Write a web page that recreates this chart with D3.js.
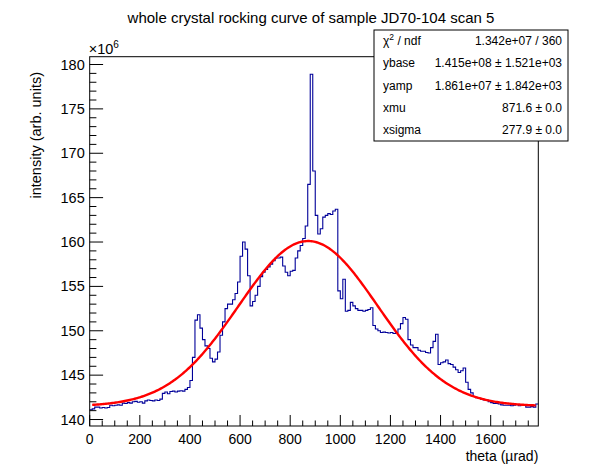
<!DOCTYPE html>
<html>
<head>
<meta charset="utf-8">
<script src="https://cdn.jsdelivr.net/npm/d3@7"></script>
<style>
  body { margin: 0; background: #fff; }
  text { font-family: "Liberation Sans", Arial, sans-serif; }
</style>
</head>
<body>
<div class="canvas"></div>
<script>
// histogram: 10 urad bins starting at 0, values in units of 1e6
const binStart = 0;
const binWidth = 10;
const counts = [
  141.1, 141.2, 141.4, 141.4, 141.3, 141.35, 141.3, 141.35, 141.6, 141.55,
  141.6, 141.65, 141.6, 141.85, 141.8, 141.9, 141.85, 142.0, 142.05, 141.95,
  142.0, 141.85, 142.1, 142.2, 142.15, 142.1, 142.2, 142.15, 142.3, 142.95,
  143.1, 142.9, 143.15, 143.2, 143.1, 143.2, 143.25, 143.2, 143.4, 143.6,
  144.4, 147.0, 151.2, 151.8, 150.3, 149.0, 148.3, 148.0, 146.9, 146.5,
  146.8, 147.6, 149.5, 151.0, 152.5, 153.0, 153.0, 153.5, 154.2, 155.5,
  158.4, 160.0, 159.2, 156.2, 152.8, 153.3, 154.0, 155.0, 156.1, 156.6,
  156.9, 157.2, 157.5, 157.9, 158.2, 158.2, 158.3, 157.3, 156.6, 156.2,
  156.7, 156.8, 158.2, 159.0, 159.6, 160.4, 161.8, 166.5, 178.9, 168.0,
  163.0, 160.9, 161.5, 162.8, 163.0, 163.2, 163.1, 163.5, 163.7, 154.5,
  153.6, 155.8, 152.2, 152.3, 153.2, 152.8, 152.5, 152.3, 152.3, 152.2,
  152.3, 152.4, 152.6, 150.6, 150.2, 150.0, 149.8, 149.85, 149.8, 149.75,
  149.8, 149.7, 149.8, 150.2, 150.8, 151.5, 151.3, 149.0, 148.4, 148.1,
  148.1, 147.8, 147.7, 147.7, 147.55, 147.5, 148.1, 148.8, 149.6, 146.2,
  146.4, 146.5, 146.7, 146.3, 146.2, 145.9, 145.6, 145.3, 145.5, 145.8,
  144.2, 143.4, 143.0, 142.6, 142.45, 142.4, 142.3, 142.2, 142.2, 142.0,
  141.9, 141.8, 141.8, 141.75, 141.65, 141.6, 141.6, 141.6, 141.55, 141.6,
  141.7, 141.55, 141.65, 141.6, 141.4, 141.4, 141.45, 141.4, 141.75
];

// gaussian fit: ybase, yamp (1e6), xmu, xsigma; fit range
const fitParams = [141.5, 18.61, 871.6, 277.9];
const fitRange = [10, 1780];

const statNames = ['χ2 / ndf', 'ybase', 'yamp', 'xmu', 'xsigma'];
const statValues = ['1.342e+07 / 360', '1.415e+08 ± 1.521e+03', '1.861e+07 ± 1.842e+03', '871.6 ± 0.0', '277.9 ± 0.0'];

const xDomain = [0, 1790];
const yDomain = [139.27, 180.88];

const width = 598, height = 474;
const margin = { top: 56.7, right: 59.7, bottom: 48, left: 89.7 };
const graphWidth = width - margin.left - margin.right;
const graphHeight = height - margin.top - margin.bottom;

const svg = d3.select('.canvas')
    .append('svg')
    .attr('width', width)
    .attr('height', height);

const graph = svg.append('g')
    .attr('transform', `translate(${margin.left},${margin.top})`);

const x = d3.scaleLinear().domain(xDomain).range([0, graphWidth]);
const y = d3.scaleLinear().domain(yDomain).range([graphHeight, 0]);

// histogram as steps
const stepPts = [];
counts.forEach((c, i) => {
    const lo = binStart + i * binWidth;
    stepPts.push([lo, c], [lo + binWidth, c]);
});
graph.append('path')
    .attr('d', d3.line().x(d => x(d[0])).y(d => y(d[1]))(stepPts))
    .attr('fill', 'none')
    .attr('stroke', '#000099')
    .attr('stroke-width', 1.1);

// fit curve
const [ybase, yamp, xmu, xsigma] = fitParams;
const fitX = d3.range(fitRange[0], fitRange[1] + 1, 5);
graph.append('path')
    .attr('d', d3.line()
        .x(d => x(d))
        .y(d => y(ybase + yamp * Math.exp(-0.5 * ((d - xmu) / xsigma) ** 2)))(fitX))
    .attr('fill', 'none')
    .attr('stroke', '#ff0000')
    .attr('stroke-width', 2.4);

// frame
graph.append('rect')
    .attr('width', graphWidth)
    .attr('height', graphHeight)
    .attr('fill', 'none')
    .attr('stroke', '#000')
    .attr('stroke-width', 1);

// x ticks (inside, root style)
const xMajor = d3.range(0, 1790, 200);
const xMinor = d3.range(0, 1790, 50).filter(v => v % 200 !== 0);
graph.selectAll('.xmaj').data(xMajor).enter().append('line')
    .attr('x1', d => x(d)).attr('x2', d => x(d))
    .attr('y1', graphHeight).attr('y2', graphHeight - 11)
    .attr('stroke', '#000');
graph.selectAll('.xmin').data(xMinor).enter().append('line')
    .attr('x1', d => x(d)).attr('x2', d => x(d))
    .attr('y1', graphHeight).attr('y2', graphHeight - 5.5)
    .attr('stroke', '#000');
graph.selectAll('.xlab').data(xMajor).enter().append('text')
    .attr('x', d => x(d))
    .attr('y', graphHeight + 18)
    .attr('text-anchor', 'middle')
    .attr('font-size', 14)
    .text(d => d);

// y ticks
const yMajor = d3.range(140, 181, 5);
const yMinor = d3.range(140, 181, 1).filter(v => v % 5 !== 0);
graph.selectAll('.ymaj').data(yMajor).enter().append('line')
    .attr('x1', 0).attr('x2', 13.4)
    .attr('y1', d => y(d)).attr('y2', d => y(d))
    .attr('stroke', '#000');
graph.selectAll('.ymin').data(yMinor).enter().append('line')
    .attr('x1', 0).attr('x2', 6.7)
    .attr('y1', d => y(d)).attr('y2', d => y(d))
    .attr('stroke', '#000');
graph.selectAll('.ylab').data(yMajor).enter().append('text')
    .attr('x', -5)
    .attr('y', d => y(d) + 5)
    .attr('text-anchor', 'end')
    .attr('font-size', 14.5)
    .text(d => d);

// exponent
const expo = svg.append('text')
    .attr('x', margin.left - 1)
    .attr('y', margin.top - 3)
    .attr('font-size', 14.5);
expo.append('tspan').text('×10');
expo.append('tspan').attr('dy', -6).attr('font-size', 10).text('6');

// axis titles
svg.append('text')
    .attr('transform', `translate(41,72) rotate(-90)`)
    .attr('text-anchor', 'end')
    .attr('font-size', 14.5)
    .text('intensity (arb. units)');
svg.append('text')
    .attr('x', margin.left + graphWidth)
    .attr('y', 461)
    .attr('text-anchor', 'end')
    .attr('font-size', 14)
    .text('theta (µrad)');

// title
svg.append('text')
    .attr('x', 311)
    .attr('y', 23)
    .attr('text-anchor', 'middle')
    .attr('font-size', 15)
    .text('whole crystal rocking curve of sample JD70-104 scan 5');

// stats box
const box = { x: 374, y: 30, w: 194, h: 111 };
svg.append('rect')
    .attr('x', box.x).attr('y', box.y)
    .attr('width', box.w).attr('height', box.h)
    .attr('fill', '#fff')
    .attr('stroke', '#000');
const rowH = box.h / statNames.length;
statNames.forEach((n, i) => {
    const ty = box.y + rowH * (i + 0.5) + 4;
    const lab = svg.append('text')
        .attr('x', box.x + 9)
        .attr('y', ty)
        .attr('font-size', 12);
    if (i === 0) {
        lab.append('tspan').text('χ');
        lab.append('tspan').attr('dy', -5).attr('font-size', 8.5).text('2');
        lab.append('tspan').attr('dy', 5).text(' / ndf');
    } else {
        lab.text(n);
    }
    svg.append('text')
        .attr('x', box.x + box.w - 6)
        .attr('y', ty)
        .attr('text-anchor', 'end')
        .attr('font-size', 12)
        .text(statValues[i]);
});
</script>
</body>
</html>
